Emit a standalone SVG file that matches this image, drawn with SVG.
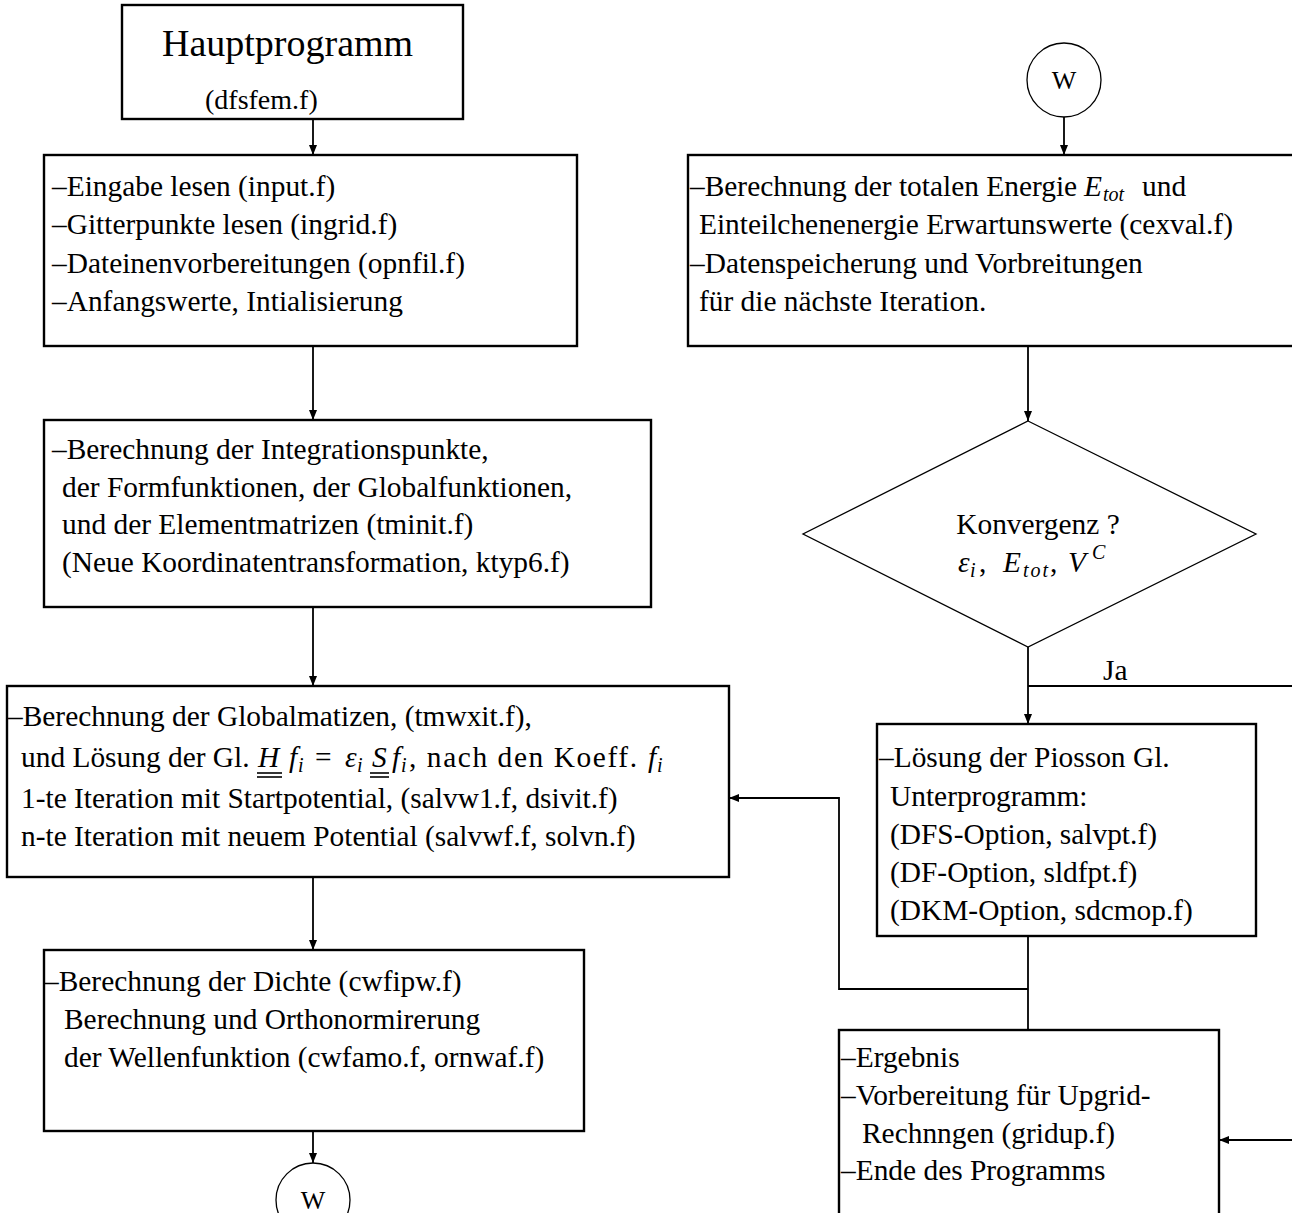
<svg xmlns="http://www.w3.org/2000/svg" width="1292" height="1213" viewBox="0 0 1292 1213">
<defs>
<marker id="arr" markerWidth="10" markerHeight="8" refX="10" refY="4" orient="auto" markerUnits="userSpaceOnUse">
<path d="M0,0 L10,4 L0,8 z" fill="#000"/>
</marker>
<style>
.box{fill:#fff;stroke:#000;stroke-width:2.4}
.t{font-family:"Liberation Serif",serif;font-size:29.4px;fill:#000}
.m{font-family:"Liberation Serif",serif;font-style:italic;font-size:29.4px;fill:#000}
.s{font-family:"Liberation Serif",serif;font-style:italic;font-size:20px;fill:#000}
.c{fill:none;stroke:#000;stroke-width:1.8}
.ul{stroke:#000;stroke-width:1.6}
</style>
</defs>
<rect width="1292" height="1213" fill="#fff"/>
<g id="connectors">
<line class="c" x1="313" y1="119" x2="313" y2="155" marker-end="url(#arr)"/>
<line class="c" x1="313" y1="346" x2="313" y2="420" marker-end="url(#arr)"/>
<line class="c" x1="313" y1="607" x2="313" y2="686" marker-end="url(#arr)"/>
<line class="c" x1="313" y1="877" x2="313" y2="950" marker-end="url(#arr)"/>
<line class="c" x1="313" y1="1131" x2="313" y2="1163" marker-end="url(#arr)"/>
<line class="c" x1="1064" y1="117" x2="1064" y2="155" marker-end="url(#arr)"/>
<line class="c" x1="1028" y1="346" x2="1028" y2="421" marker-end="url(#arr)"/>
<line class="c" x1="1028" y1="647" x2="1028" y2="724" marker-end="url(#arr)"/>
<line class="c" x1="1028" y1="686" x2="1292" y2="686"/>
<line class="c" x1="1028" y1="936" x2="1028" y2="1030"/>
<polyline class="c" points="1028,989 839,989 839,798 729,798" stroke-width="2.4" marker-end="url(#arr)"/>
<line class="c" x1="1292" y1="1140" x2="1219" y2="1140" marker-end="url(#arr)"/>
<text class="t" x="1103" y="680">Ja</text>
</g>
<g id="hauptprogramm">
<rect class="box" x="122" y="5" width="341" height="114"/>
<text class="t" x="162" y="56" style="font-size:38px">Hauptprogramm</text>
<text class="t" x="205" y="109" style="font-size:28px">(dfsfem.f)</text>
</g>
<g id="eingabe">
<rect class="box" x="44" y="155" width="533" height="191"/>
<text class="t" x="52" y="196">–Eingabe lesen (input.f)</text>
<text class="t" x="52" y="234">–Gitterpunkte lesen (ingrid.f)</text>
<text class="t" x="52" y="273">–Dateinenvorbereitungen (opnfil.f)</text>
<text class="t" x="52" y="311">–Anfangswerte, Intialisierung</text>
</g>
<g id="integration">
<rect class="box" x="44" y="420" width="607" height="187"/>
<text class="t" x="52" y="459">–Berechnung der Integrationspunkte,</text>
<text class="t" x="62" y="497">der Formfunktionen, der Globalfunktionen,</text>
<text class="t" x="62" y="534">und der Elementmatrizen (tminit.f)</text>
<text class="t" x="62" y="572">(Neue Koordinatentransformation, ktyp6.f)</text>
</g>
<g id="globalmatrizen">
<rect class="box" x="7" y="686" width="722" height="191"/>
<text class="t" x="8" y="726">–Berechnung der Globalmatizen, (tmwxit.f),</text>
<text class="t" x="21" y="767">und Lösung der Gl.</text>
<text class="m" x="258" y="767">H</text>
<text class="m" x="289" y="767">f</text>
<text class="s" x="298" y="772">i</text>
<text class="t" x="315" y="767">=</text>
<text class="m" x="345" y="767">ε</text>
<text class="s" x="357" y="772">i</text>
<text class="m" x="372" y="767">S</text>
<text class="m" x="392" y="767">f</text>
<text class="s" x="401" y="772">i</text>
<text class="t" x="409" y="767" textLength="228" lengthAdjust="spacing">, nach den Koeff.</text>
<text class="m" x="648" y="767">f</text>
<text class="s" x="657" y="772">i</text>
<line class="ul" x1="257" y1="773" x2="282" y2="773"/>
<line class="ul" x1="257" y1="777" x2="282" y2="777"/>
<line class="ul" x1="370" y1="773" x2="389" y2="773"/>
<line class="ul" x1="370" y1="777" x2="389" y2="777"/>
<text class="t" x="21" y="808">1-te Iteration mit Startpotential, (salvw1.f, dsivit.f)</text>
<text class="t" x="21" y="846">n-te Iteration mit neuem Potential (salvwf.f, solvn.f)</text>
</g>
<g id="dichte">
<rect class="box" x="44" y="950" width="540" height="181"/>
<text class="t" x="44" y="991">–Berechnung der Dichte (cwfipw.f)</text>
<text class="t" x="64" y="1029">Berechnung und Orthonormirerung</text>
<text class="t" x="64" y="1067">der Wellenfunktion (cwfamo.f, ornwaf.f)</text>
</g>
<g id="w-bottom">
<circle cx="313" cy="1200" r="37" fill="#fff" stroke="#000" stroke-width="1.3"/>
<text class="t" x="313" y="1209" text-anchor="middle" style="font-size:26px">W</text>
</g>
<g id="w-top">
<circle cx="1064" cy="80" r="37" fill="#fff" stroke="#000" stroke-width="1.3"/>
<text class="t" x="1064" y="89" text-anchor="middle" style="font-size:26px">W</text>
</g>
<g id="energie">
<rect class="box" x="688" y="155" width="620" height="191"/>
<text class="t" x="690" y="196">–Berechnung der totalen Energie</text>
<text class="m" x="1084" y="196">E</text>
<text class="s" x="1103" y="201">tot</text>
<text class="t" x="1142" y="196">und</text>
<text class="t" x="699" y="234">Einteilchenenergie Erwartunswerte (cexval.f)</text>
<text class="t" x="690" y="273">–Datenspeicherung und Vorbreitungen</text>
<text class="t" x="699" y="311">für die nächste Iteration.</text>
</g>
<g id="konvergenz">
<polygon points="1028,421 1256,534 1028,647 803,534" fill="#fff" stroke="#000" stroke-width="1.3"/>
<text class="t" x="1038" y="534" text-anchor="middle">Konvergenz ?</text>
<text class="m" x="958" y="572">ε</text>
<text class="s" x="970" y="577">i</text>
<text class="t" x="979" y="572">,</text>
<text class="m" x="1003" y="572">E</text>
<text class="s" x="1023" y="577" style="letter-spacing:2px">tot</text>
<text class="t" x="1050" y="572">,</text>
<text class="m" x="1068" y="572">V</text>
<text class="s" x="1092" y="559">C</text>
</g>
<g id="poisson">
<rect class="box" x="877" y="724" width="379" height="212"/>
<text class="t" x="879" y="767">–Lösung der Piosson Gl.</text>
<text class="t" x="890" y="806">Unterprogramm:</text>
<text class="t" x="890" y="844">(DFS-Option, salvpt.f)</text>
<text class="t" x="890" y="882">(DF-Option, sldfpt.f)</text>
<text class="t" x="890" y="920">(DKM-Option, sdcmop.f)</text>
</g>
<g id="ergebnis">
<rect class="box" x="839" y="1030" width="380" height="200"/>
<text class="t" x="841" y="1067">–Ergebnis</text>
<text class="t" x="841" y="1105">–Vorbereitung für Upgrid-</text>
<text class="t" x="862" y="1143">Rechnngen (gridup.f)</text>
<text class="t" x="841" y="1180">–Ende des Programms</text>
</g>
</svg>
